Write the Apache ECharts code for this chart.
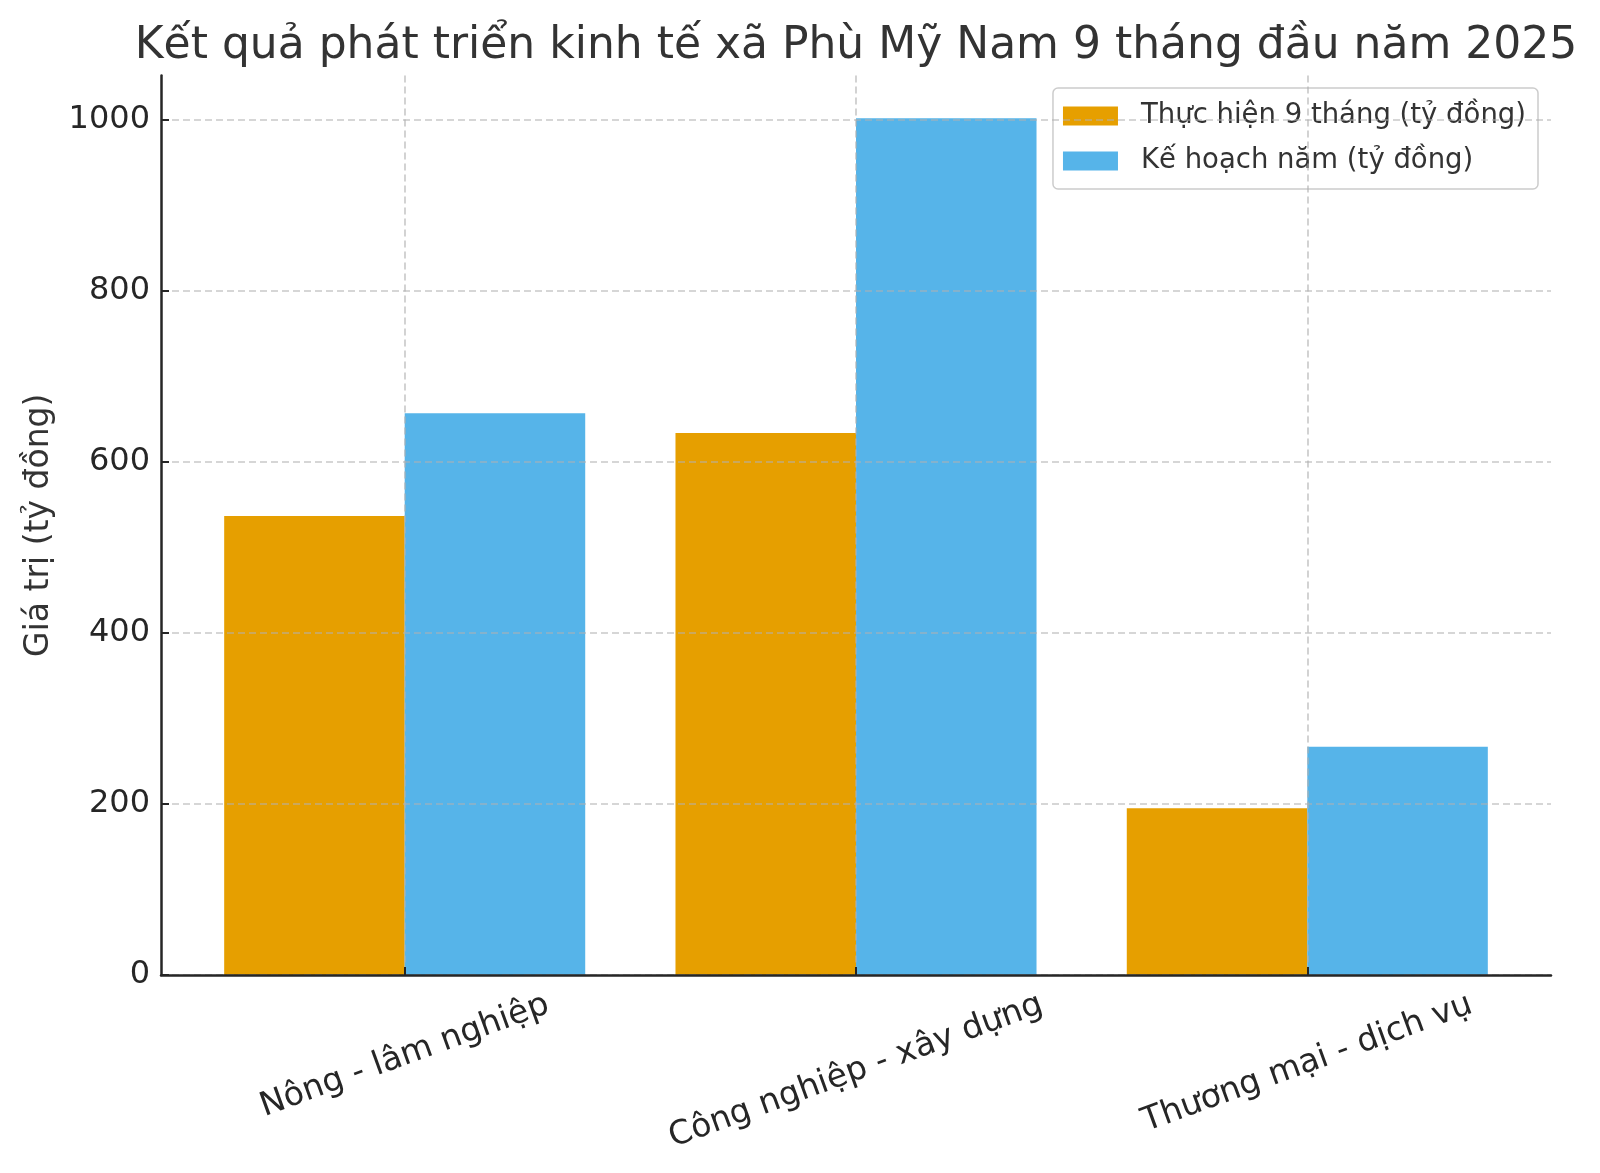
<!DOCTYPE html>
<html>
<head>
<meta charset="utf-8">
<script src="https://cdn.jsdelivr.net/npm/echarts@6/dist/echarts.min.js"></script>
<style>
html,body{margin:0;padding:0;background:#fff;}
#chart{width:1600px;height:1173px;}
</style>
</head>
<body>
<div id="chart"></div>
<script>
// ---- data ----
const categories = ['Nông - lâm nghiệp', 'Công nghiệp - xây dựng', 'Thương mại - dịch vụ'];
const seriesNames = ['Thực hiện 9 tháng (tỷ đồng)', 'Kế hoạch năm (tỷ đồng)'];
const thucHien = [537, 634, 195];
const keHoach = [657, 1002, 267];
const yTicks = [0, 200, 400, 600, 800, 1000];
const titleText = 'Kết quả phát triển kinh tế xã Phù Mỹ Nam 9 tháng đầu năm 2025';
const yName = 'Giá trị (tỷ đồng)';

// ---- styling / layout ----
const FONT = '"DejaVu Sans", Verdana, sans-serif';
const tickFont = 32;
const xFont = 33;
const titleFont = 44;
const angle = 20;
const xPositions = categories.map((c, i) => i);
const yMax = Math.max(...thucHien, ...keHoach) * 1.05;

const ctx = document.createElement('canvas').getContext('2d');
// matplotlib-like rotated label placement (centre of rotated bbox under tick)
ctx.font = xFont + 'px "DejaVu Sans"';
const th = angle * Math.PI / 180;
const H = 38, pad = 11;
const margins = categories.map(c => pad + (ctx.measureText(c).width * Math.sin(th) + H * Math.cos(th)) / 2);
const baseMargin = Math.min(...margins);
const rich = {};
categories.forEach((c, i) => {
  const d = margins[i] - baseMargin;
  rich['l' + i] = { padding: [2 * d * Math.cos(th), 2 * d * Math.sin(th), 0, 0] };
});
// title centred over the plot area
ctx.font = titleFont + 'px "DejaVu Sans"';
const titleW = ctx.measureText(titleText).width;
const gridLeft = 161, gridRight = 49;
const plotCenter = gridLeft + (1600 - gridLeft - gridRight) / 2;

const gridColor = 'rgba(176,176,176,0.7)';
const axisColor = '#262626';

const chart = echarts.init(document.getElementById('chart'), null, { renderer: 'canvas' });
chart.setOption({
  backgroundColor: '#fff',
  animation: false,
  title: {
    text: titleText,
    left: plotCenter - titleW / 2,
    top: 25,
    padding: 0,
    textStyle: { fontFamily: FONT, fontSize: titleFont, fontWeight: 'normal', color: '#333', lineHeight: 44 }
  },
  legend: {
    orient: 'vertical',
    right: 62,
    top: 88,
    data: seriesNames,
    icon: 'rect',
    itemWidth: 55,
    itemHeight: 19,
    itemGap: 17,
    padding: [14, 12, 14, 10],
    backgroundColor: 'rgba(255,255,255,0.8)',
    borderColor: '#cccccc',
    borderWidth: 1.5,
    borderRadius: 5,
    textStyle: { fontFamily: FONT, fontSize: 27.5, color: '#333', lineHeight: 26, padding: [0, 0, 0, 18] }
  },
  grid: {
    left: gridLeft, right: gridRight, top: 75.5, bottom: 198,
    containLabel: false,
    outerBoundsMode: 'none'
  },
  xAxis: {
    type: 'value',
    min: -0.54,
    max: 2.54,
    z: 10,
    axisLine: { show: true, onZero: false, lineStyle: { color: axisColor, width: 2.5 } },
    axisTick: { show: true, inside: true, length: 8, customValues: xPositions, lineStyle: { color: axisColor, width: 2 } },
    splitLine: { show: true, lineStyle: { color: gridColor, width: 1.6, type: [7, 4] } },
    axisLabel: {
      customValues: xPositions,
      rotate: angle,
      align: 'center',
      verticalAlign: 'middle',
      margin: baseMargin,
      fontFamily: FONT,
      fontSize: xFont,
      color: axisColor,
      formatter: v => '{l' + v + '|' + categories[v] + '}',
      rich: rich
    }
  },
  yAxis: {
    type: 'value',
    min: 0,
    max: yMax,
    z: 10,
    name: yName,
    nameLocation: 'middle',
    nameGap: 99,
    nameRotate: 90,
    nameTextStyle: { fontFamily: FONT, fontSize: 33, color: '#333', lineHeight: 36 },
    axisLine: { show: true, onZero: false, lineStyle: { color: axisColor, width: 2.5 } },
    axisTick: { show: true, inside: true, length: 8, customValues: yTicks, lineStyle: { color: axisColor, width: 2 } },
    splitLine: { show: true, lineStyle: { color: gridColor, width: 1.6, type: [7, 4] } },
    axisLabel: {
      customValues: yTicks,
      margin: 11,
      fontFamily: FONT,
      fontSize: tickFont,
      color: axisColor,
      formatter: v => String(v)
    }
  },
  series: [
    {
      name: seriesNames[0],
      type: 'bar',
      barWidth: '40%',
      barGap: '0%',
      itemStyle: { color: '#E69F00' },
      data: xPositions.map((x, i) => [x, thucHien[i]])
    },
    {
      name: seriesNames[1],
      type: 'bar',
      barWidth: '40%',
      barGap: '0%',
      itemStyle: { color: '#56B4E9' },
      data: xPositions.map((x, i) => [x, keHoach[i]])
    }
  ]
});
</script>
</body>
</html>
